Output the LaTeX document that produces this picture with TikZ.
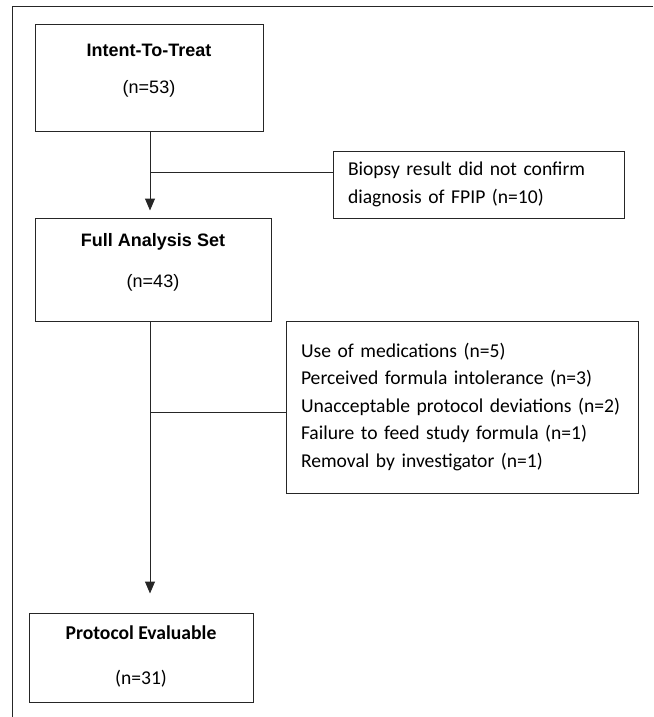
\documentclass[tikz,border=0pt]{standalone}
\usepackage{fontspec}
\setmainfont{Carlito}
\newfontfamily\arialfont{Liberation Sans}
\usetikzlibrary{arrows.meta}

\tikzset{
  box/.style={draw=black!85, line width=1pt, rectangle, inner sep=0pt},
  listbox/.style={box, align=left, inner xsep=15pt, font=\fontsize{19.6}{27.5}\selectfont},
  headtxt/.style={font=\arialfont\bfseries\fontsize{18}{21}\selectfont},
  numtxt/.style={font=\arialfont\fontsize{18}{21}\selectfont},
  flow/.style={draw=black!85, line width=1pt},
}

\begin{document}
\begin{tikzpicture}[x=1pt,y=-1pt]
    \useasboundingbox (0,0) rectangle (653,717);
    \draw[flow] (653,6.5) -- (12.5,6.5) -- (12.5,717);

    % main boxes
    \node[box, minimum width=228pt, minimum height=106pt] (itt) at (149,78) {};
    \node[headtxt] (itt-t) at (149,50) {Intent-To-Treat};
    \node[numtxt] (itt-n) at (149,89) {(n=53)};

    \node[box, minimum width=236pt, minimum height=103pt] (fas) at (153,269.5) {};
    \node[headtxt] (fas-t) at (153,242) {Full Analysis Set};
    \node[numtxt] (fas-n) at (153,283) {(n=43)};

    \node[box, minimum width=224pt, minimum height=89pt] (pe) at (141,657.5) {};
    \node[font=\bfseries\fontsize{19.6}{23}\selectfont] (pe-t) at (141,633) {Protocol Evaluable};
    \node[font=\fontsize{19.6}{23}\selectfont] (pe-n) at (141,679) {(n=31)};

    % exclusions
    \node[listbox, text width=261pt, minimum height=67pt] (biopsy) at (478.5,184.5)
    {Biopsy result did not confirm\\diagnosis of FPIP (n=10)};

    \node[listbox, text width=322pt, minimum height=172pt] (reasons) at (462,407)
    {Use of medications (n=5)\\
     Perceived formula intolerance (n=3)\\
     Unacceptable protocol deviations (n=2)\\
     Failure to feed study formula (n=1)\\
     Removal by investigator (n=1)\\[7pt]};

    % connectors
    \coordinate (jn1) at (150,172);
    \coordinate (jn2) at (150,412);
    \draw[flow, -{Triangle[width=10pt,length=12pt]}, shorten >=7pt]
        (jn1 |- itt.south) -- (jn1 |- fas.north);
    \draw[flow, -{Triangle[width=10pt,length=12pt]}, shorten >=19pt]
        (jn1 |- fas.south) -- (jn1 |- pe.north);
    \draw[flow] (jn1) -- (jn1 -| biopsy.west);
    \draw[flow] (jn2) -- (jn2 -| reasons.west);

\end{tikzpicture}
\end{document}
